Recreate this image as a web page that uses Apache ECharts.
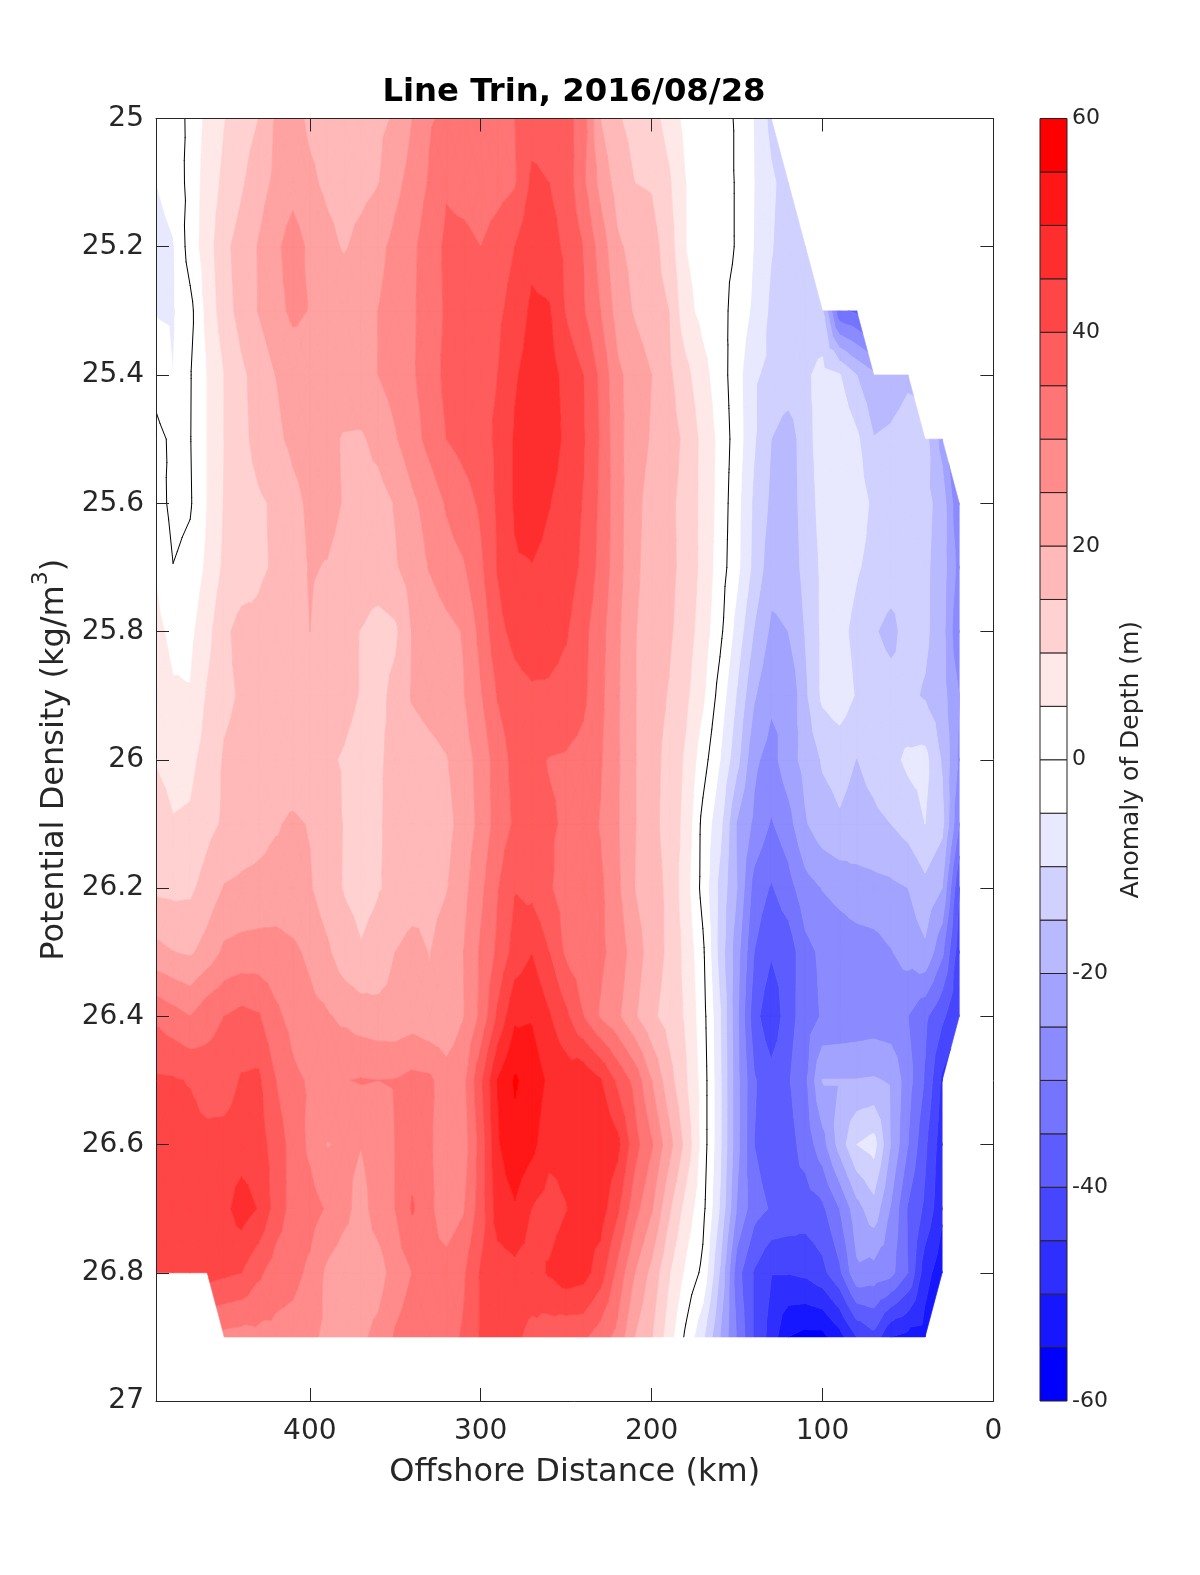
<!DOCTYPE html>
<html>
<head>
<meta charset="utf-8">
<style>html,body{margin:0;padding:0;background:#fff}#c{width:1200px;height:1575px}</style>
<script src="https://cdn.jsdelivr.net/npm/echarts@6/dist/echarts.min.js"></script>
</head>
<body>
<div id="c"></div>
<script>
const N = null;
const titleText = 'Line Trin, 2016/08/28';
const distanceKm = [490,480,470,460,450,440,430,420,410,400,390,380,370,360,350,340,330,320,310,300,290,280,270,260,250,240,230,220,210,200,190,180,170,160,150,140,130,120,110,100,90,80,70,60,50,40,30,20];
const densityLevels = [25,25.1,25.2,25.3,25.4,25.5,25.6,25.7,25.8,25.9,26,26.1,26.2,26.3,26.4,26.5,26.6,26.7,26.8,26.9];
const anomaly = [
[-3,-2,0.9,6.5,9.8,12.5,15,20.5,22,19, 18,17.5,18,19,20.5,25,29.5,31,32,33, 34,35,38,38,37,32.5,20,15.5,13.5,12, 8,3.5,2.2,1,-0.3,-5.2,-11.5,N,N,N, N,N,N,N,N,N,N,N],
[-5,-2.8,1.4,7.5,11,14.3,18,21,23,21, 19,18,18.5,19.8,23.5,27,30.5,34.5,33,32, 33,34.5,41,40,38,31,23.5,18,15,14.5, 10.8,5,3,1.5,-0.3,-5,-9.2,-12,N,N, N,N,N,N,N,N,N,N],
[-7,-5.4,2.3,7.5,13.8,17,20.3,23.8,27.5,24, 21.5,19.5,21.5,23.5,26.5,29,32.5,36,36.5,35, 37.5,40,43.5,42,39,34.8,28,20.8,18.5,17, 12.5,5,3,1.5,-0.3,-5.2,-9.7,-12.5,-15,N, N,N,N,N,N,N,N,N],
[-5.2,-5.5,-1.5,6.5,12.8,16.8,20.2,23.3,26,24.8, 24,24,24.6,25,27.3,29.3,32.5,35.7,36.5,37.5, 39,42,46,45.5,39.5,35.5,30,23,19.5,17, 15,6.5,3.5,1.8,-2,-6,-11,-12.5,-13.5,-14.5, -34,-36,N,N,N,N,N,N],
[-2,-5,-0.3,5,10,14,17,20,22,22.8, 23,23.5,24,25,27,29.5,32,36.5,37.5,38.5, 40,44.5,47,47,43.5,40,34,26,23,20, 16,11.5,6.5,2.5,-3,-9.5,-11,-11.5,-11,-8.2, -9.7,-15,-19,-18,-16,N,N,N],
[1.5,-1,-0.2,5,10,13.5,16.8,19,21,22, 21.5,19.5,19.3,21.5,24.5,28,31.5,35,36.7,38, 41,45.5,48,47.5,44,40.5,34.5,26.5,22.5,19.5, 17,14,8.5,3.5,-2.5,-9.5,-15,-18,-12,-7.5, -6,-9,-14.8,-14,-12.5,-13,-22,N],
[2.5,-1.5,-0.5,5,10.3,12.5,14.3,15.7,18.7,20.8, 21.5,19.7,18,18,20.3,24,27,30.5,33,35.8, 40.8,45.5,47.5,45.2,43,39.7,34,27,21.5,18, 16,13.5,8.5,3.2,-3.5,-11,-16,-17.5,-13,-8, -6,-7.5,-11,-11.5,-12,-13.5,-17,-30],
[4.5,0.1,1.5,6,11,12.5,14.3,15.5,18,20.3, 19.8,18.5,18,18.3,19.5,22,25.3,28,29.5,34, 40.3,44.5,44.8,43.5,42.5,39,33.5,27,21,18, 16.2,13.5,8.5,2.5,-3.7,-11.5,-18,-18,-13.5,-9, -7,-9.5,-11.5,-12.5,-13,-14,-17.5,-27],
[6.5,3.5,3.8,8.3,14,16.6,16,17.5,18.5,20, 18.5,16.5,14.8,12.7,14,20.2,21.5,23.5,25.3,31.5, 38.5,41.5,43.5,42.5,40.5,36.5,31.8,26,20.3,17.7, 15.8,12.5,7.5,1.3,-7,-15.3,-21,-20,-14.7,-9, -8.5,-11.5,-14.5,-16.5,-13,-14,-18,-30],
[8.5,5.7,5.3,10.5,14,15.5,16,16.5,17,17.5, 17,16,14.8,13.5,16.5,20.5,22,23,24.7,29.5, 35.3,38,39,39,38,36,31.3,25.7,20.3,17, 14.7,11,5.8,-2,-10.5,-19.5,-24,-25,-16,-9, -7,-10.5,-12,-13,-14,-15.5,-18,-25],
[9.7,8.3,8.7,12,15.5,16.5,17,17,16.8,16.3, 15.5,14.7,13.7,14.5,16,17,18.3,19.7,22.8,26.8, 32.5,36.5,36,34.8,34.5,33.5,30.5,25.7,20.3,16.7, 13.5,9.2,2.2,-5,-13.5,-24,-27,-22,-18.5,-14.5, -13.5,-15.1,-13.5,-11.5,-9,-8.5,-15.5,-26],
[12.5,10.3,10.7,13.5,15.7,17,18,19.5,20.8,19.7, 17,14.8,13.7,14.5,16.5,17.5,18,18.5,22,26.5, 32.3,35.7,36,35.5,34.5,32.5,29.7,25.5,20.3,16.7, 13,8.5,-1.5,-8.5,-20.5,-26,-30.5,-27,-20.5,-17, -15.5,-16.7,-16,-15,-13,-10,-13.5,-30],
[14,13.7,14,17,20.3,21,21.5,22,21.5,20.5, 17,14.7,13.7,14.7,16,17,18.3,19.7,23.5,28.8, 34.7,39.7,38.5,35.5,33,32,31,26,20,17, 14,7,-1.7,-11.5,-20,-32,-35.5,-32,-27,-24.8, -23.5,-22,-21.5,-21,-20,-16.5,-20,-40],
[21.5,20.1,19.3,22,26,26.8,27,27,26,24, 21,17,15.3,16.5,20,22,19.8,22.5,25,30.7, 36,42,44.8,40,34,32,31,28,22.5,17.7, 14,8.5,1,-12,-23,-35,-39.5,-38,-31.5,-29, -28,-27.5,-27,-25.3,-23,-21,-29,-43],
[34,32,30,33.5,35,36.5,35.5,31,28.5,26.5, 25.5,24,22.5,21.8,21.5,22.5,21,21.5,24.8,31, 41,49,49.5,45.5,41,35,29.5,26,20.7,16, 13,9.3,2,-9.5,-24,-38,-44,-37,-32.5,-29.5, -29,-28.5,-28,-28.5,-30,-34,-39,-44],
[40.8,40.5,39.7,37,37.5,40.5,41,35,31,29.5, 28,29.8,30.3,30,30.2,31.5,31,27,28.7,39, 50.2,55.6,53,49,48,49,45.5,39,33.5,25, 17,10.5,2.8,-9,-23.5,-34.5,-38,-35.5,-31,-19.8, -19.8,-19.8,-19.5,-20.5,-28,-35.5,-46,N],
[42,42,42,42,42,42.5,42,38,33,29, 24.8,25.5,25.1,27.5,30,33,30.5,28,27.5,37, 49.5,53.5,51.5,46.5,46.5,48.5,49,46.5,37,30.5, 22,13.5,2.8,-9,-23.5,-35,-38,-37,-33,-27, -18,-10,-8,-20.2,-30,-39,-48,N],
[42.5,43,43,43,43.5,47.5,44.7,38,33,32, 29.5,26.5,23,27.5,30,35.5,31,27,29.5,37.5, 47.5,49.5,44.8,43,44.8,47.5,47.5,41,32,25.5, 16,8,1.5,-10.5,-25.5,-33,-35.5,-36.5,-37.5,-36, -30,-22,-17,-25.5,-35.5,-41,-49,N],
[42.5,42.5,42.5,42,41,40,36,32.5,31.5,29, 24,22,22,22.5,27.5,30,31,32,34.3,40.5, 42.5,43.5,43,45.5,48,47,42.5,33.5,25,18.5, 10.5,4,-1.2,-15.5,-33,-40.5,-44.8,-44.8,-44,-41.5, -36,-26,-27,-28.5,-35,-48,-53,N],
[N,N,N,N,28.5,28,28.5,28.5,28,26, 24,24,24,26.5,30.5,32,33,33.5,35.5,40.5, 41,41,38.5,37,36,36,32.5,28.5,20,15.3, 7.5,-1,-9,-20,-30.5,-40.5,-47,-55,-56.5,-56.5, -52,-45,-41.5,-50,-51.5,-52,N,N]
];
const bandEdges = [-60,-55,-50,-45,-40,-35,-30,-25,-20,-15,-10,-5,0,5,10,15,20,25,30,35,40,45,50,55,60];
const bandColors = ['#0000ff','#1717ff','#2e2eff','#4646ff','#5d5dff','#7474ff','#8b8bff','#a2a2ff','#b9b9ff','#d1d1ff','#e8e8ff','#ffffff','#ffffff','#ffe8e8','#ffd1d1','#ffb9b9','#ffa2a2','#ff8b8b','#ff7474','#ff5d5d','#ff4646','#ff2e2e','#ff1717','#ff0000'];
const xTickStep = 100;
const yTickStep = 0.2;
const cbarTickStep = 20;

function cellTriangles(i, j) {
  const P = (c, r) => ({ x: distanceKm[c], y: densityLevels[r], v: anomaly[r][c] });
  const a = P(i, j), b = P(i + 1, j), c = P(i + 1, j + 1), d = P(i, j + 1);
  const valid = [a, b, c, d].filter(p => p.v !== null);
  if (valid.length < 3) return [];
  if (valid.length === 3) return [valid];
  const m = { x: (a.x + c.x) / 2, y: (a.y + c.y) / 2, v: (a.v + b.v + c.v + d.v) / 4 };
  return [[a, b, m], [b, c, m], [c, d, m], [d, a, m]];
}
function lerp(p, q, level) {
  const t = (level - p.v) / (q.v - p.v);
  return { x: p.x + (q.x - p.x) * t, y: p.y + (q.y - p.y) * t, v: level };
}
function clip(poly, level, keepAbove) {
  const out = [];
  for (let k = 0; k < poly.length; k++) {
    const p = poly[k], q = poly[(k + 1) % poly.length];
    const pin = keepAbove ? p.v >= level : p.v <= level;
    const qin = keepAbove ? q.v >= level : q.v <= level;
    if (pin) out.push(p);
    if (pin !== qin) out.push(lerp(p, q, level));
  }
  return out;
}
const allTriangles = [];
for (let j = 0; j < densityLevels.length - 1; j++)
  for (let i = 0; i < distanceKm.length - 1; i++) allTriangles.push(...cellTriangles(i, j));

function pathOf(polys, api) {
  return polys.map(poly => poly.map((p, k) => {
    const c = api.coord([p.x, p.y]);
    return (k ? 'L' : 'M') + c[0].toFixed(2) + ' ' + c[1].toFixed(2);
  }).join('')).join('');
}
function renderBand(params, api) {
  const b = api.value(2);
  const polys = [];
  allTriangles.forEach(tri => {
    let poly = clip(tri, bandEdges[b], true);
    if (poly.length >= 3) poly = clip(poly, bandEdges[b + 1], false);
    if (poly.length >= 3) polys.push(poly.concat([poly[0]]));
  });
  if (!polys.length) return null;
  return {
    type: 'path',
    shape: { pathData: pathOf(polys, api) },
    style: { fill: bandColors[b], stroke: bandColors[b], lineWidth: 0.7 },
    silent: true
  };
}
function renderZero(params, api) {
  const segs = [];
  allTriangles.forEach(tri => {
    const pts = [];
    for (let k = 0; k < 3; k++) {
      const p = tri[k], q = tri[(k + 1) % 3];
      if ((p.v < 0) !== (q.v < 0)) pts.push(lerp(p, q, 0));
    }
    if (pts.length === 2) segs.push(pts);
  });
  return {
    type: 'path',
    shape: { pathData: pathOf(segs, api) },
    style: { fill: null, stroke: '#000', lineWidth: 1, lineCap: 'round' },
    silent: true
  };
}
function renderCbar(params, api) {
  const lo = api.value(0), hi = api.value(1);
  const p0 = api.coord([0, hi]), p1 = api.coord([1, lo]);
  return {
    type: 'rect',
    shape: { x: p0[0], y: p0[1], width: p1[0] - p0[0], height: p1[1] - p0[1] },
    style: { fill: bandColors[api.value(2)], stroke: '#2a2020', lineWidth: 1 },
    silent: true
  };
}
const bandData = bandColors.map((c, b) => [bandEdges[b], bandEdges[b + 1], b]);

const font = 'DejaVu Sans', ink = '#262626';
const lineStyle = { color: ink, width: 1 };
const axisLine = { show: true, onZero: false, lineStyle };
const tick = { show: true, inside: true, length: 13, lineStyle };

const chart = echarts.init(document.getElementById('c'), null, { renderer: 'canvas' });
chart.setOption({
  animation: false,
  backgroundColor: '#fff',
  title: {
    text: titleText, left: 569, top: 72, textAlign: 'center',
    textStyle: { fontFamily: font, fontWeight: 'bold', fontSize: 32.3, color: '#000' }
  },
  grid: [
    { left: 156, top: 118.5, width: 837.4, height: 1282.5, outerBoundsMode: 'none', containLabel: false },
    { left: 1040, top: 118.5, width: 27, height: 1282.5, outerBoundsMode: 'none', containLabel: false }
  ],
  xAxis: [
    { gridIndex: 0, type: 'value', position: 'bottom', min: 0, max: 490, inverse: true, interval: xTickStep,
      name: 'Offshore Distance (km)', nameLocation: 'middle', nameGap: 56,
      nameTextStyle: { fontFamily: font, fontSize: 32, color: ink },
      axisLine, axisTick: tick, splitLine: { show: false }, zlevel: 1,
      axisLabel: { fontFamily: font, fontSize: 28, color: ink, margin: 17, showMaxLabel: false,
        formatter: v => (v % xTickStep === 0 ? String(v) : '') } },
    { gridIndex: 0, type: 'value', position: 'top', min: 0, max: 490, inverse: true, interval: xTickStep,
      axisLine, axisTick: tick, axisLabel: { show: false }, splitLine: { show: false }, zlevel: 1 },
    { gridIndex: 1, type: 'value', min: 0, max: 1, show: false }
  ],
  yAxis: [
    { gridIndex: 0, type: 'value', position: 'left', min: 25, max: 27, inverse: true, interval: yTickStep,
      name: '{t|Potential Density (kg/m}{s|3}{t|)}', nameLocation: 'middle', nameGap: 76, nameRotate: 90,
      nameTextStyle: { rich: {
        t: { fontFamily: font, fontSize: 32, color: ink, lineHeight: 48 },
        s: { fontFamily: font, fontSize: 22, color: ink, verticalAlign: 'top', lineHeight: 26 }
      } },
      axisLine, axisTick: tick, splitLine: { show: false }, zlevel: 1,
      axisLabel: { fontFamily: font, fontSize: 28, color: ink, margin: 12, padding: [3, 0, 0, 0],
        formatter: v => String(parseFloat(v.toFixed(1))) } },
    { gridIndex: 0, type: 'value', position: 'right', min: 25, max: 27, inverse: true, interval: yTickStep,
      axisLine, axisTick: tick, axisLabel: { show: false }, splitLine: { show: false }, zlevel: 1 },
    { gridIndex: 1, type: 'value', position: 'right', min: -60, max: 60, interval: cbarTickStep,
      name: 'Anomaly of Depth (m)', nameLocation: 'middle', nameGap: 52, nameRotate: 90,
      nameTextStyle: { fontFamily: font, fontSize: 25, color: ink },
      axisLine: { show: false }, axisTick: { show: false }, splitLine: { show: false },
      axisLabel: { fontFamily: font, fontSize: 22, color: ink, margin: 5, padding: [6, 0, 0, 0] } }
  ],
  series: [
    { type: 'custom', name: 'Anomaly fill', coordinateSystem: 'cartesian2d', xAxisIndex: 0, yAxisIndex: 0,
      data: bandData, renderItem: renderBand, encode: { x: 0, y: 1 }, z: 2, silent: true, clip: true, progressive: 0 },
    { type: 'custom', name: 'Zero contour', coordinateSystem: 'cartesian2d', xAxisIndex: 0, yAxisIndex: 0,
      data: [[0, 25, 0]], renderItem: renderZero, encode: { x: 0, y: 1 }, z: 5, silent: true, clip: true, progressive: 0 },
    { type: 'custom', name: 'Colour bar', coordinateSystem: 'cartesian2d', xAxisIndex: 2, yAxisIndex: 2,
      data: bandData, renderItem: renderCbar, encode: { y: [0, 1] }, z: 2, silent: true, progressive: 0 }
  ]
});
</script>
</body>
</html>
